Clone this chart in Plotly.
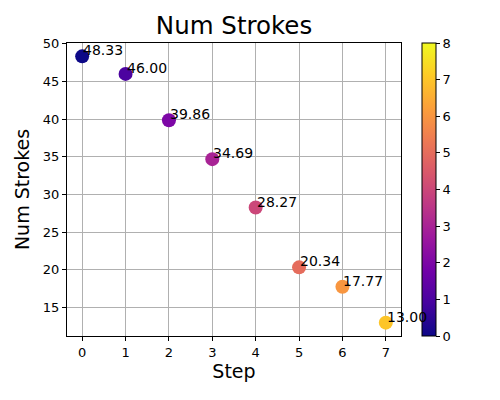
import plotly.graph_objects as go

steps = [0, 1, 2, 3, 4, 5, 6, 7]
num_strokes = [48.33, 46.00, 39.86, 34.69, 28.27, 20.34, 17.77, 13.00]
labels = ["%.2f" % v for v in num_strokes]

FONT = "DejaVu Sans"

fig = go.Figure()
fig.add_trace(go.Scatter(
    x=steps,
    y=num_strokes,
    mode="markers",
    marker=dict(
        size=14,
        color=steps,
        colorscale="Plasma",
        cmin=0,
        cmax=8,
        line=dict(width=0),
        colorbar=dict(
            x=1.063, xanchor="left", xpad=0,
            y=0, yanchor="bottom", len=1, lenmode="fraction", ypad=0,
            thickness=14,
            outlinewidth=1, outlinecolor="black",
            tickvals=list(range(9)),
            ticks="outside", ticklen=4, tickcolor="black",
            tickfont=dict(family=FONT, size=13, color="black"),
        ),
    ),
    showlegend=False,
    hoverinfo="skip",
))

# value labels, left edge at the point, baseline near its centre
for x, y, t in zip(steps, num_strokes, labels):
    fig.add_annotation(
        x=x, y=y, text=t, showarrow=False,
        xanchor="left", yanchor="bottom", yshift=-4, xshift=-1,
        font=dict(family=FONT, size=14, color="black"),
    )

axis_common = dict(
    showgrid=True, gridcolor="#b0b0b0", gridwidth=1,
    showline=True, linecolor="black", linewidth=1, mirror=True,
    ticks="outside", ticklen=4, tickcolor="black",
    tickfont=dict(family=FONT, size=13, color="black"),
    zeroline=False,
)

# the page body adds 8px, margins compensate for it
fig.update_layout(
    width=500, height=400,
    margin=dict(l=59, r=107, t=35, b=72),
    paper_bgcolor="white", plot_bgcolor="white",
    title=dict(text="Num Strokes", x=0.452, xanchor="center", y=0.9575, yanchor="middle",
               font=dict(family=FONT, size=24.5, color="black")),
    xaxis=dict(range=[-0.35, 7.35], tickvals=steps,
               title=dict(text="Step", font=dict(family=FONT, size=19, color="black"), standoff=6),
               **axis_common),
    yaxis=dict(range=[11.23, 50.1], tickvals=[15, 20, 25, 30, 35, 40, 45, 50],
               title=dict(text="Num Strokes", font=dict(family=FONT, size=19, color="black"), standoff=8),
               **axis_common),
)

fig.write_html("out.html")
